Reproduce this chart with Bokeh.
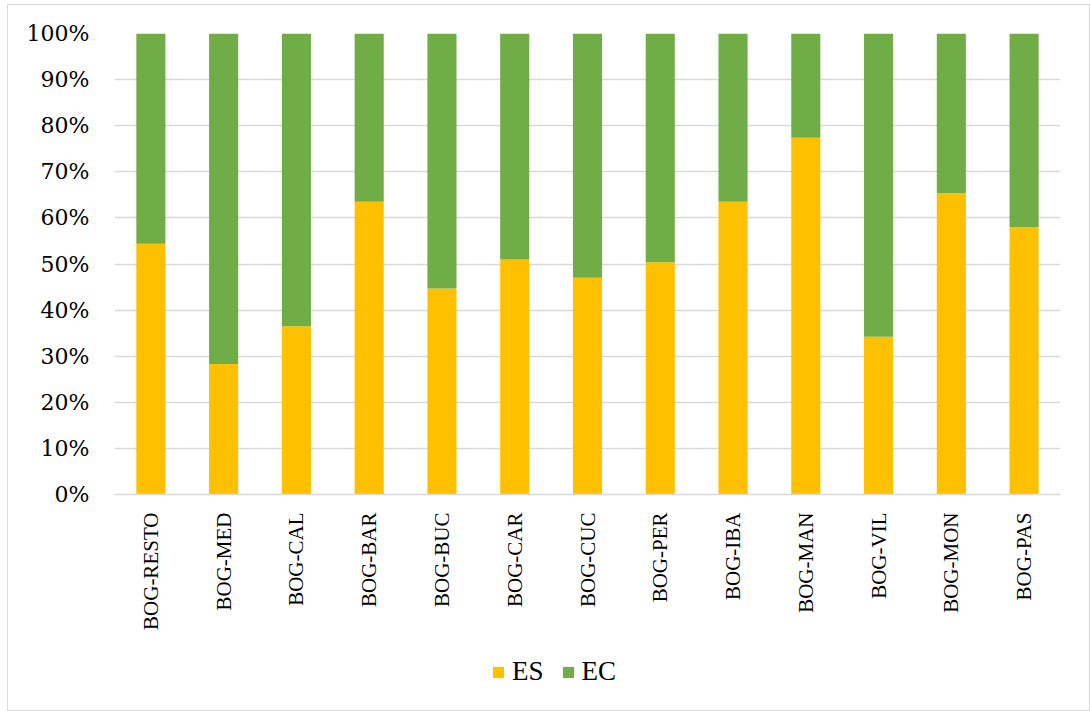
import math
from bokeh.plotting import figure
from bokeh.layouts import column
from bokeh.models import (ColumnDataSource, FactorRange, Range1d, FixedTicker,
                          PrintfTickFormatter, Legend, LegendItem)
from bokeh.embed import file_html
from bokeh.resources import INLINE

# Share of each group (percent) per station
stations = ["BOG-RESTO", "BOG-MED", "BOG-CAL", "BOG-BAR", "BOG-BUC", "BOG-CAR",
            "BOG-CUC", "BOG-PER", "BOG-IBA", "BOG-MAN", "BOG-VIL", "BOG-MON", "BOG-PAS"]
es = [54.4, 28.3, 36.5, 63.5, 44.7, 51.0, 47.0, 50.4, 63.5, 77.4, 34.2, 65.4, 58.0]
ec = [45.6, 71.7, 63.5, 36.5, 55.3, 49.0, 53.0, 49.6, 36.5, 22.6, 65.8, 34.6, 42.0]
series = ["ES", "EC"]
colors = ["#FFC000", "#70AD47"]
y_ticks = [0, 10, 20, 30, 40, 50, 60, 70, 80, 90, 100]

source = ColumnDataSource(data=dict(station=stations, ES=es, EC=ec))
x_range = FactorRange(*stations, range_padding=0)

p = figure(width=1081, height=640, x_range=x_range,
           y_range=Range1d(0, 100), output_backend="svg", toolbar_location=None,
           min_border_left=106, min_border_right=29, min_border_top=28,
           min_border_bottom=151)
p.outline_line_color = None
p.background_fill_color = "white"
p.border_fill_color = "white"

p.vbar_stack(series, x="station", width=0.4, source=source,
             color=colors, line_width=0)

# axes
p.yaxis.ticker = FixedTicker(ticks=y_ticks)
p.yaxis.formatter = PrintfTickFormatter(format="%d%%")
p.yaxis.axis_line_color = None
p.yaxis.major_tick_line_color = None
p.yaxis.minor_tick_line_color = None
p.yaxis.major_label_standoff = 19
p.yaxis.major_label_text_font = "DejaVu Serif"
p.yaxis.major_label_text_font_size = "22px"
p.yaxis.major_label_text_color = "#000000"

p.xaxis.axis_line_color = "#D9D9D9"
p.xaxis.axis_line_width = 1.5
p.xaxis.major_tick_line_color = None
p.xaxis.minor_tick_line_color = None
p.xaxis.major_label_orientation = math.pi / 2
p.xaxis.major_label_standoff = 12
p.xaxis.major_label_text_font = "Liberation Serif"
p.xaxis.major_label_text_font_size = "21px"
p.xaxis.major_label_text_color = "#000000"

p.xgrid.grid_line_color = None
p.ygrid.ticker = FixedTicker(ticks=y_ticks)
p.ygrid.grid_line_color = "#D9D9D9"
p.ygrid.grid_line_width = 1.5

# legend strip below the chart; its bars lie above the visible y range,
# so only the legend keys show
lg = figure(width=1081, height=65, x_range=x_range, y_range=Range1d(101, 102),
            output_backend="svg", toolbar_location=None,
            min_border_left=0, min_border_right=0, min_border_top=0, min_border_bottom=0)
lg.axis.visible = False
lg.grid.visible = False
lg.outline_line_color = None
lg.border_fill_color = "white"
keys = lg.vbar_stack(series, x="station", width=0.4, source=source,
                     color=colors, line_width=0)
legend = Legend(items=[LegendItem(label=s, renderers=[r]) for s, r in zip(series, keys)],
                orientation="horizontal", location=(377, 23),
                glyph_width=14, glyph_height=14, label_standoff=7, spacing=17,
                padding=0, margin=0, border_line_color=None,
                background_fill_alpha=0,
                label_text_font="Liberation Serif", label_text_font_size="27px",
                label_text_color="#000000")
lg.add_layout(legend, "center")

layout = column(p, lg, spacing=0)
# light frame around the whole chart
layout.styles = {"border": "1px solid #D9D9D9", "margin-left": "7px", "margin-top": "4px"}

open("out.html", "w").write(file_html(layout, INLINE))
